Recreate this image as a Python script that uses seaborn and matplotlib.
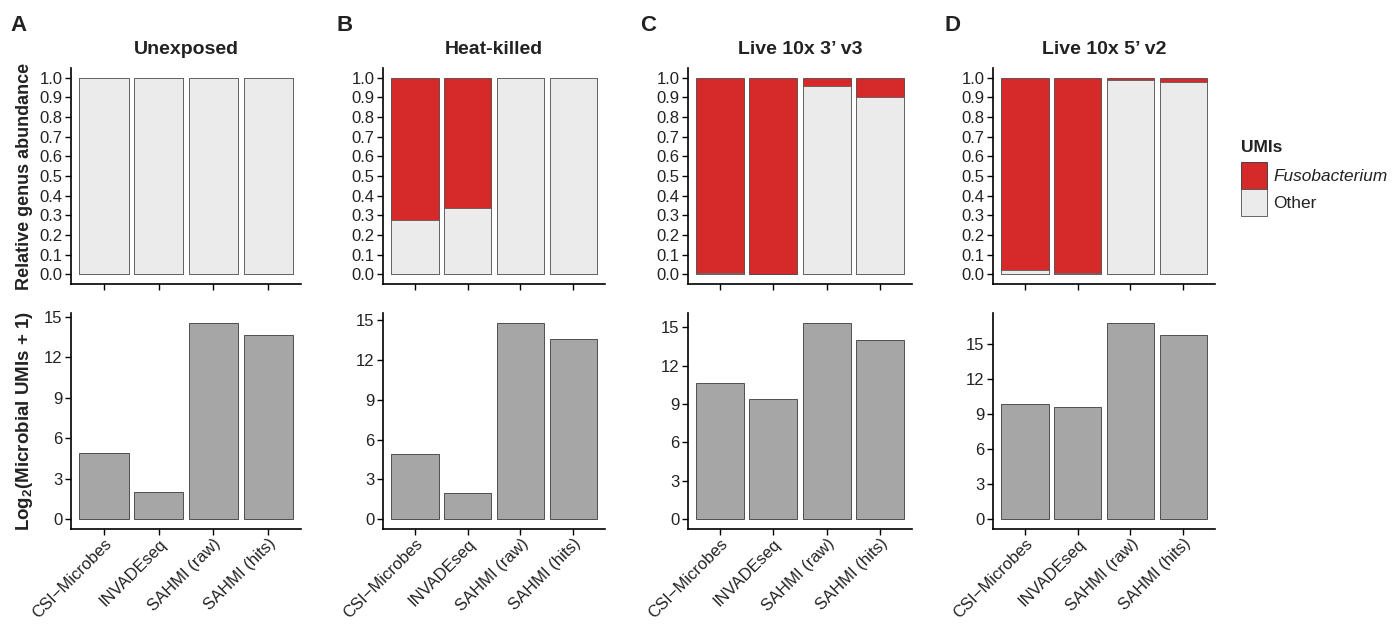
import matplotlib
matplotlib.use("Agg")
import matplotlib.pyplot as plt
from matplotlib.patches import Patch
import seaborn as sns
import pandas as pd

# ---------------- data ----------------
methods = ["CSI\u2212Microbes", "INVADEseq", "SAHMI (raw)", "SAHMI (hits)"]
conditions = ["Unexposed", "Heat-killed", "Live 10x 3\u2019 v3", "Live 10x 5\u2019 v2"]
panel_letters = ["A", "B", "C", "D"]

other_unexposed = [1.0, 1.0, 1.0, 1.0]
other_heat = [0.277, 0.335, 0.998, 0.998]
other_live3 = [0.005, 0.002, 0.958, 0.902]
other_live5 = [0.020, 0.008, 0.990, 0.979]

log2_unexposed = [4.90, 2.00, 14.55, 13.68]
log2_heat = [4.90, 2.00, 14.80, 13.60]
log2_live3 = [10.65, 9.40, 15.35, 14.04]
log2_live5 = [9.88, 9.66, 16.85, 15.83]

other_all = [other_unexposed, other_heat, other_live3, other_live5]
log2_all = [log2_unexposed, log2_heat, log2_live3, log2_live5]

legend_title = "UMIs"
legend_labels = ["Fusobacterium", "Other"]
abund_ticks = [0.0, 0.1, 0.2, 0.3, 0.4, 0.5, 0.6, 0.7, 0.8, 0.9, 1.0]
umi_ticks = [0, 3, 6, 9, 12, 15]

# ---------------- style ----------------
sns.set_theme(style="ticks")
plt.rcParams["font.family"] = ["Liberation Sans", "DejaVu Sans"]
plt.rcParams["mathtext.fontset"] = "custom"
plt.rcParams["mathtext.rm"] = "Liberation Sans"
plt.rcParams["mathtext.bf"] = "Liberation Sans:bold"

RED = "#D62A2A"
OTHER = "#EBEBEB"
GREY = "#A6A6A6"
EDGE = "#4D4D4D"
TXT = "#222222"

W, H = 1398, 627
fig = plt.figure(figsize=(W / 100, H / 100), dpi=100)


def add_ax(left, top, right, bottom):
    return fig.add_axes([left / W, 1 - bottom / H, (right - left) / W, (bottom - top) / H])


cols = [(71, 301), (383, 605), (688, 912), (993, 1215)]
top_row = (68, 284)
bot_row = (313, 529)


def style_ax(ax):
    sns.despine(ax=ax)
    for s in ["left", "bottom"]:
        ax.spines[s].set_linewidth(1.2)
        ax.spines[s].set_color("black")
    ax.tick_params(axis="both", length=4, width=1.0, color="black",
                   labelsize=12, labelcolor=TXT, pad=2)
    ax.set_xlim(-0.6, 3.6)
    ax.set_xlabel("")
    ax.set_ylabel("")


for i, (cond, letter) in enumerate(zip(conditions, panel_letters)):
    l, r = cols[i]
    other = other_all[i]
    fuso = [1 - o for o in other]
    total = [o + f for o, f in zip(other, fuso)]
    df = pd.DataFrame({"method": methods, "other": other, "total": total,
                       "log2": log2_all[i]})

    # top: stacked relative abundance
    ax = add_ax(l, top_row[0], r, top_row[1])
    sns.barplot(data=df, x="method", y="total", order=methods, color=RED,
                saturation=1, width=0.9, edgecolor="#333333", linewidth=0.5,
                errorbar=None, ax=ax)
    sns.barplot(data=df, x="method", y="other", order=methods, color=OTHER,
                saturation=1, width=0.9, edgecolor=EDGE, linewidth=0.5,
                errorbar=None, ax=ax)
    style_ax(ax)
    ax.set_ylim(-0.05, 1.05)
    ax.set_yticks(abund_ticks)
    ax.set_yticklabels([f"{t:.1f}" for t in abund_ticks])
    ax.set_xticks(range(len(methods)))
    ax.set_xticklabels([])
    ax.set_title(cond, fontsize=14, fontweight="bold", color=TXT, pad=10)
    if i == 0:
        ax.set_ylabel("Relative genus abundance", fontsize=13, fontweight="bold",
                      color=TXT)
        ax.yaxis.set_label_coords((33 - l) / (r - l), 0.5)

    # bottom: log2 UMIs
    ax2 = add_ax(l, bot_row[0], r, bot_row[1])
    sns.barplot(data=df, x="method", y="log2", order=methods, color=GREY,
                saturation=1, width=0.9, edgecolor="#3a3a3a", linewidth=0.6,
                errorbar=None, ax=ax2)
    style_ax(ax2)
    mx = max(log2_all[i])
    ax2.set_ylim(-0.05 * mx, 1.05 * mx)
    ax2.set_yticks(umi_ticks)
    ax2.set_xticks(range(len(methods)))
    ax2.set_xticklabels(methods, rotation=45, ha="right", va="top",
                        rotation_mode="anchor", fontsize=12)
    ax2.tick_params(axis="x", pad=1)
    if i == 0:
        ax2.set_ylabel(r"Log$_{\mathbf{2}}$(Microbial UMIs + 1)", fontsize=13.5,
                       fontweight="bold", color=TXT)
        ax2.yaxis.set_label_coords((35 - l) / (r - l), 0.5)

    fig.text([10, 337, 640, 945][i] / W, 1 - 31 / H, letter, fontsize=16,
             fontweight="bold", color=TXT, va="baseline", ha="left")

# legend
fig.text(1241 / W, 1 - 152 / H, legend_title, fontsize=12.5, fontweight="bold",
         color=TXT, va="baseline", ha="left")
handles = [Patch(facecolor=RED, edgecolor="#333333", linewidth=0.6),
           Patch(facecolor=OTHER, edgecolor=EDGE, linewidth=0.6)]
leg = fig.legend(handles, legend_labels, loc="upper left",
                 bbox_to_anchor=(1241 / W, 1 - 162 / H), frameon=False,
                 fontsize=12.4, handlelength=1.51, handleheight=2.04,
                 handletextpad=0.35, labelspacing=0.0, borderaxespad=0,
                 borderpad=0)
leg.get_texts()[0].set_fontstyle("italic")
for t in leg.get_texts():
    t.set_color(TXT)

fig.savefig("out.png", dpi=100)
